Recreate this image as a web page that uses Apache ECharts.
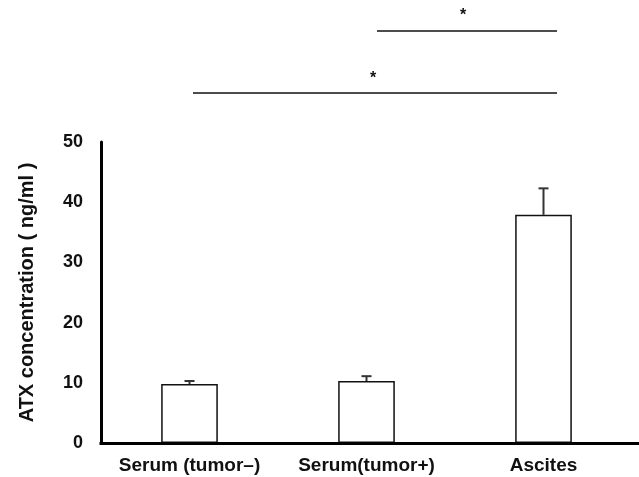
<!DOCTYPE html>
<html>
<head>
<meta charset="utf-8">
<script src="https://cdn.jsdelivr.net/npm/echarts@6/dist/echarts.min.js"></script>
<style>
  html, body { margin: 0; padding: 0; background: #fff; }
  #chart { width: 639px; height: 477px; }
</style>
</head>
<body>
<div id="chart"></div>
<script>
var categories = ['Serum (tumor\u2013)', 'Serum(tumor+)', 'Ascites'];
var means = [9.8, 10.3, 37.9];
var errors = [0.5, 0.8, 4.4];
var yTicks = [0, 10, 20, 30, 40, 50];

var chartDom = document.getElementById('chart');
var myChart = echarts.init(chartDom);
var font = "'Liberation Sans', Arial, sans-serif";

var option = {
    animation: false,
    grid: {
        left: 101,
        right: 7,
        top: 142,
        bottom: 34
    },
    xAxis: {
        type: 'category',
        data: categories,
        axisLine: { show: false },
        axisTick: { show: false },
        axisLabel: {
            interval: 0,
            hideOverlap: false,
            color: '#111',
            fontFamily: font,
            fontWeight: 'bold',
            fontSize: 19,
            margin: 13
        }
    },
    yAxis: {
        type: 'value',
        min: yTicks[0],
        max: yTicks[yTicks.length - 1],
        interval: 10,
        name: 'ATX concentration ( ng/ml )',
        nameLocation: 'middle',
        nameGap: 64,
        nameTextStyle: {
            color: '#111',
            fontFamily: font,
            fontWeight: 'bold',
            fontSize: 20
        },
        axisLine: { show: true, lineStyle: { color: '#000', width: 3 } },
        axisTick: { show: false },
        splitLine: { show: false },
        axisLabel: {
            color: '#111',
            fontFamily: font,
            fontWeight: 'bold',
            fontSize: 18,
            margin: 18
        }
    },
    series: [
        {
            type: 'bar',
            data: means,
            barWidth: '32%',
            itemStyle: {
                color: '#fff',
                borderColor: '#111',
                borderWidth: 1.5
            }
        },
        {
            type: 'custom',
            data: means.map(function (m, i) { return [i, m, errors[i]]; }),
            renderItem: function (params, api) {
                var i = api.value(0);
                var top = api.coord([i, api.value(1) + api.value(2)]);
                var base = api.coord([i, api.value(1)]);
                var style = { stroke: '#333', lineWidth: 2 };
                return {
                    type: 'group',
                    children: [
                        { type: 'line', shape: { x1: base[0], y1: base[1], x2: top[0], y2: top[1] }, style: style },
                        { type: 'line', shape: { x1: top[0] - 5, y1: top[1], x2: top[0] + 5, y2: top[1] }, style: style }
                    ]
                };
            },
            z: 3
        }
    ],
    graphic: [
        { type: 'line', z: 10, shape: { x1: 99.5, y1: 443.5, x2: 639, y2: 443.5 }, style: { stroke: '#000', lineWidth: 3 } },
        { type: 'line', shape: { x1: 377, y1: 31, x2: 557, y2: 31 }, style: { stroke: '#111', lineWidth: 1.5 } },
        { type: 'line', shape: { x1: 193, y1: 93, x2: 557, y2: 93 }, style: { stroke: '#111', lineWidth: 1.5 } },
        { type: 'text', x: 463, y: 16, style: { text: '*', fill: '#111', font: 'bold 16px ' + font, textAlign: 'center', textVerticalAlign: 'middle' } },
        { type: 'text', x: 373, y: 79, style: { text: '*', fill: '#111', font: 'bold 16px ' + font, textAlign: 'center', textVerticalAlign: 'middle' } }
    ]
};

myChart.setOption(option);
</script>
</body>
</html>
